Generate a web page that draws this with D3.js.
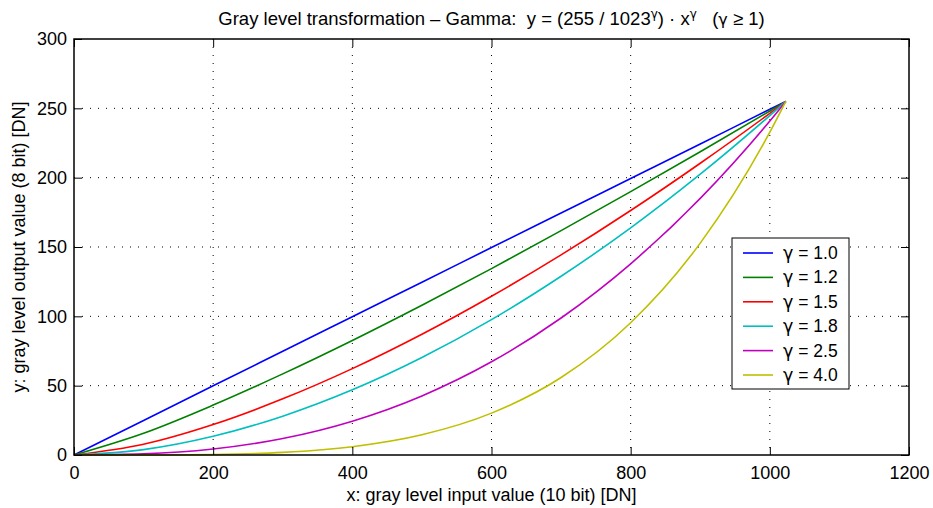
<!DOCTYPE html>
<meta charset="utf-8">
<head>
  <title>Gray level transformation - Gamma</title>
  <script src="https://cdnjs.cloudflare.com/ajax/libs/d3/7.8.5/d3.min.js"></script>
</head>
<style>
  body {
    margin: 0;
    background: white;
    font-family: "Liberation Sans", Arial, sans-serif;
  }
  .grid line {
    stroke: black;
    stroke-width: 1;
    stroke-dasharray: 1,7;
  }
  .tick text {
    font-size: 18px;
    font-family: "Liberation Sans", Arial, sans-serif;
    fill: black;
  }
  .gam {
    font-family: "DejaVu Sans", sans-serif;
  }
</style>
<body>
<div id="chart"></div>
<script>
  var xs = [0, 100, 200, 300, 400, 500, 600, 700, 800, 900, 1000, 1023];

  var gammaLabels = ["1.0", "1.2", "1.5", "1.8", "2.5", "4.0"];
  var gammaColors = ["#0000ff", "#008000", "#ff0000", "#00bfbf", "#bf00bf", "#bfbf00"];

  // output values per curve
  var g10 = [0, 24.9, 49.9, 74.8, 99.7, 124.6, 149.6, 174.5, 199.4, 224.3, 249.3, 255];
  var g12 = [0, 15.7, 36.0, 58.5, 82.6, 108.0, 134.4, 161.8, 189.9, 218.7, 248.1, 255];
  var g15 = [0, 7.8, 22.0, 40.5, 62.3, 87.1, 114.5, 144.3, 176.3, 210.4, 246.4, 255];
  var g18 = [0, 3.9, 13.5, 28.0, 47.0, 70.3, 97.6, 128.9, 163.8, 202.5, 244.8, 255];
  var g25 = [0, 0.8, 4.3, 11.9, 24.4, 42.6, 67.2, 98.8, 137.9, 185.1, 240.9, 255];
  var g40 = [0, 0.0, 0.4, 1.9, 6.0, 14.6, 30.2, 55.9, 95.4, 152.8, 232.8, 255];
  var series = [g10, g12, g15, g18, g25, g40];

  var xTicks = [0, 200, 400, 600, 800, 1000, 1200];
  var yTicks = [0, 50, 100, 150, 200, 250, 300];

  var WIDTH = 933, HEIGHT = 508;
  var mLeft = 74, mRight = 909, mTop = 39, mBottom = 455;

  var svg = d3.select("#chart").append("svg")
    .attr("width", WIDTH)
    .attr("height", HEIGHT);

  var x = d3.scaleLinear().domain([0, 1200]).range([mLeft, mRight]);
  var y = d3.scaleLinear().domain([0, 300]).range([mBottom, mTop]);

  // dotted grid
  var grid = svg.append("g").attr("class", "grid");
  grid.selectAll(".gx").data(xTicks.slice(1, -1)).enter().append("line")
    .attr("x1", d => x(d)).attr("x2", d => x(d))
    .attr("y1", mTop).attr("y2", mBottom);
  grid.selectAll(".gy").data(yTicks.slice(1, -1)).enter().append("line")
    .attr("x1", mLeft).attr("x2", mRight)
    .attr("y1", d => y(d)).attr("y2", d => y(d));

  // curves
  var line = d3.line()
    .x((d, i) => x(xs[i]))
    .y(d => y(d))
    .curve(d3.curveMonotoneX);

  svg.append("g").selectAll("path").data(series).enter().append("path")
    .attr("fill", "none")
    .attr("stroke", (d, i) => gammaColors[i])
    .attr("stroke-width", 1.6)
    .attr("d", line);

  // axes, ticks inward like matlab
  svg.append("g").attr("transform", "translate(0," + mBottom + ")")
    .call(d3.axisBottom(x).tickValues(xTicks).tickFormat(d3.format("d")).tickSize(-8).tickPadding(11).tickSizeOuter(0))
    .call(g => g.select(".domain").remove());
  svg.append("g").attr("transform", "translate(0," + mTop + ")")
    .call(d3.axisTop(x).tickValues(xTicks).tickSize(-8).tickFormat("").tickSizeOuter(0))
    .call(g => g.select(".domain").remove());
  svg.append("g").attr("transform", "translate(" + mLeft + ",0)")
    .call(d3.axisLeft(y).tickValues(yTicks).tickSize(-8).tickPadding(7).tickSizeOuter(0))
    .call(g => g.select(".domain").remove());
  svg.append("g").attr("transform", "translate(" + mRight + ",0)")
    .call(d3.axisRight(y).tickValues(yTicks).tickSize(-8).tickFormat("").tickSizeOuter(0))
    .call(g => g.select(".domain").remove());

  svg.append("rect")
    .attr("x", mLeft).attr("y", mTop)
    .attr("width", mRight - mLeft).attr("height", mBottom - mTop)
    .attr("fill", "none").attr("stroke", "black").attr("stroke-width", 1.5);

  // title
  var title = svg.append("text")
    .attr("x", (mLeft + mRight) / 2).attr("y", 25)
    .attr("text-anchor", "middle")
    .attr("xml:space", "preserve")
    .style("font-size", "18.5px");
  title.append("tspan").text("Gray level transformation \u2013 Gamma:  y = (255 / 1023");
  title.append("tspan").attr("class", "gam").attr("dy", -7).style("font-size", "12px").text("\u03b3");
  title.append("tspan").attr("dy", 7).text(") \u00b7 x");
  title.append("tspan").attr("class", "gam").attr("dy", -7).style("font-size", "12px").text("\u03b3");
  title.append("tspan").attr("dy", 7).text("   (");
  title.append("tspan").attr("class", "gam").style("font-size", "16px").text("\u03b3");
  title.append("tspan").text(" \u2265 1)");

  // axis labels
  svg.append("text")
    .attr("x", (mLeft + mRight) / 2).attr("y", 501)
    .attr("text-anchor", "middle")
    .style("font-size", "18px")
    .text("x: gray level input value (10 bit) [DN]");
  svg.append("text")
    .attr("transform", "translate(25," + (mTop + mBottom) / 2 + ") rotate(-90)")
    .attr("text-anchor", "middle")
    .style("font-size", "18px")
    .text("y: gray level output value (8 bit) [DN]");

  // legend
  var lg = svg.append("g").attr("transform", "translate(732,238)");
  lg.append("rect").attr("width", 117).attr("height", 151)
    .attr("fill", "white").attr("stroke", "black").attr("stroke-width", 1);
  var items = lg.selectAll(".item").data(gammaLabels).enter().append("g")
    .attr("transform", (d, i) => "translate(0," + (15 + i * 24.4) + ")");
  items.append("line")
    .attr("x1", 11).attr("x2", 41)
    .attr("stroke", (d, i) => gammaColors[i]).attr("stroke-width", 1.6);
  var lt = items.append("text")
    .attr("x", 51).attr("y", 6)
    .style("font-size", "17.5px");
  lt.append("tspan").attr("class", "gam").text("\u03b3");
  lt.append("tspan").text(d => " = " + d);
</script>
</body>
